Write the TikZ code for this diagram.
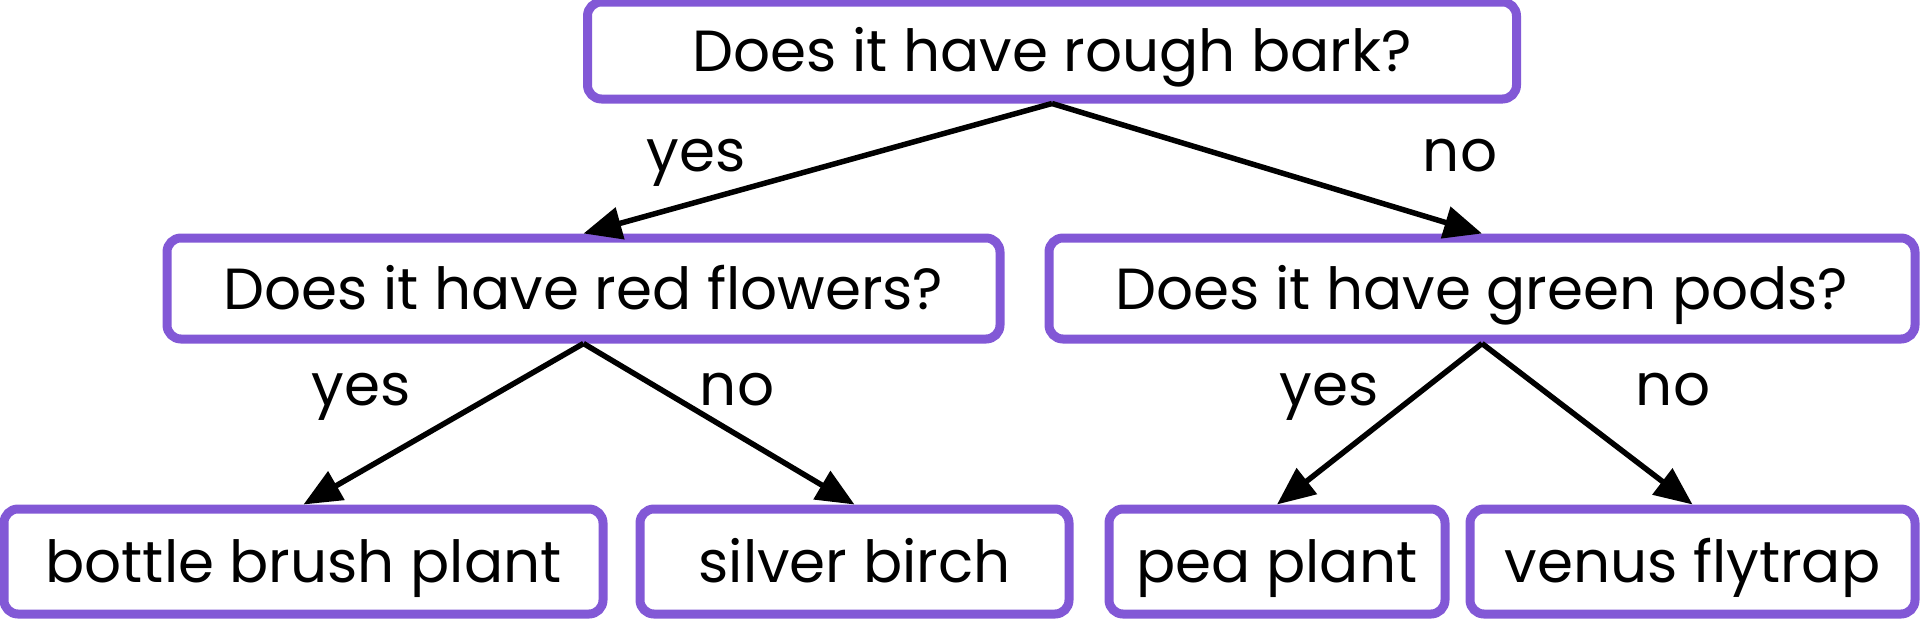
\documentclass[tikz,border=0pt]{standalone}
\usepackage{fontspec}
\setmainfont{Poppins}
\usetikzlibrary{arrows.meta}
\definecolor{boxpurple}{RGB}{130,88,214}
\tikzset{
  qbox/.style={draw=boxpurple, line width=9pt, rounded corners=14pt, fill=white,
    font=\fontsize{58}{70}\selectfont, text height=41pt, text depth=0pt, inner sep=0pt},
  lbl/.style={font=\fontsize{58}{70}\selectfont, text height=32pt, text depth=0pt, inner sep=0pt},
  conn/.style={line width=5.5pt, -{Triangle[length=38pt,width=32pt]}}
}
\begin{document}
\begin{tikzpicture}[x=1pt,y=-1pt]
\useasboundingbox (0,0) rectangle (1920,621);
\node[qbox, minimum width=929pt, minimum height=97pt] (top) at (1052,50.5) {Does it have rough bark?};
\node[qbox, minimum width=833pt, minimum height=101pt] (lm) at (583.5,288.5) {Does it have red flowers?};
\node[qbox, minimum width=866pt, minimum height=101pt] (rm) at (1482,288.5) {Does it have green pods?};
\node[qbox, minimum width=599pt, minimum height=105pt] (b1) at (303.5,561.5) {bottle brush plant};
\node[qbox, minimum width=429pt, minimum height=105pt] (b2) at (854.5,561.5) {silver birch};
\node[qbox, minimum width=336pt, minimum height=105pt] (b3) at (1277,561.5) {pea plant};
\node[qbox, minimum width=445pt, minimum height=105pt] (b4) at (1692.5,561.5) {venus flytrap};
\draw[conn] (top.south) -- (lm.north);
\draw[conn] (top.south) -- (rm.north);
\draw[conn] (lm.south) -- (b1.north);
\draw[conn] (lm.south) -- (b2.north);
\draw[conn] (rm.south) -- (b3.north);
\draw[conn] (rm.south) -- (b4.north);
\node[lbl] (l1) at (696,155) {yes};
\node[lbl] (l2) at (1460,155) {no};
\node[lbl] (l3) at (361,389) {yes};
\node[lbl] (l4) at (737,389) {no};
\node[lbl] (l5) at (1329,389) {yes};
\node[lbl] (l6) at (1673,389) {no};
\end{tikzpicture}
\end{document}
